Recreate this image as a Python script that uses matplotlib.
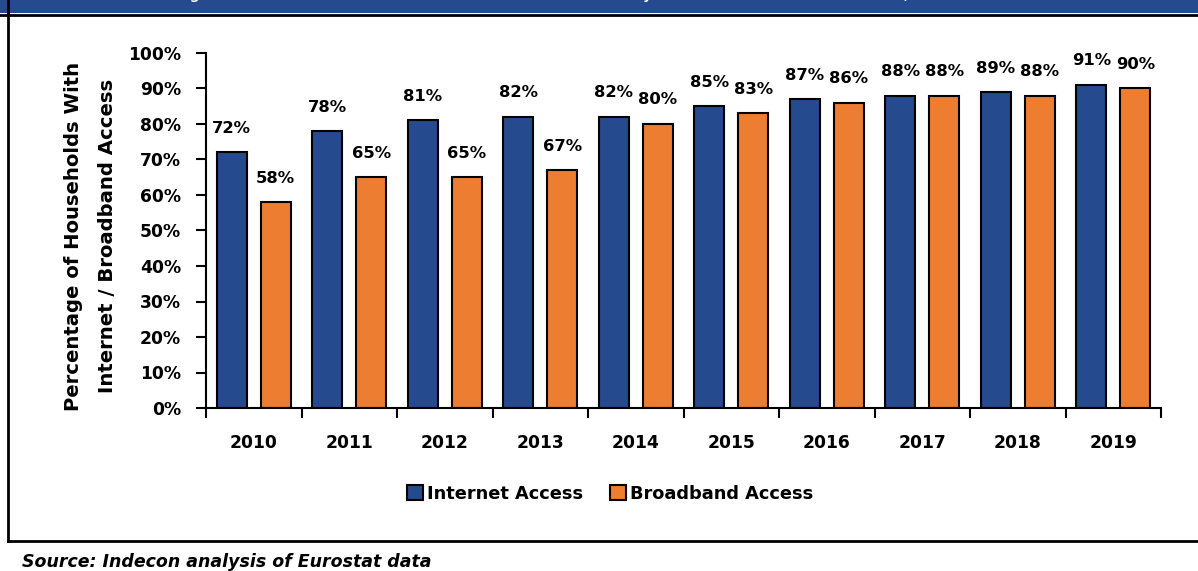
import matplotlib
matplotlib.use("Agg")
import matplotlib.pyplot as plt
from matplotlib.patches import Rectangle, Patch
from matplotlib.lines import Line2D

plt.rcParams['font.family'] = ['DejaVu Sans']
plt.rcParams['font.weight'] = 'bold'

years = ['2010', '2011', '2012', '2013', '2014', '2015', '2016', '2017', '2018', '2019']
internet = [72, 78, 81, 82, 82, 85, 87, 88, 89, 91]
broadband = [58, 65, 65, 67, 80, 83, 86, 88, 88, 90]
yticks = [0, 10, 20, 30, 40, 50, 60, 70, 80, 90, 100]

BLUE = '#264A8E'
ORANGE = '#ED7D31'

W, H = 1198, 571
fig = plt.figure(figsize=(W / 100, H / 100), dpi=100)

# frame: blue header band, rules and left border
fig.add_artist(Rectangle((0, 1 - 13 / H), 1, 13 / H, transform=fig.transFigure,
                         facecolor='#254A8F', edgecolor='none'))
fig.add_artist(Line2D([0, 1], [1 - 14.5 / H, 1 - 14.5 / H], transform=fig.transFigure,
                      color='black', lw=2))
fig.add_artist(Line2D([8 / W, 8 / W], [1, 1 - 541 / H], transform=fig.transFigure,
                      color='black', lw=2))
fig.add_artist(Line2D([8 / W, 1], [1 - 541 / H, 1 - 541 / H], transform=fig.transFigure,
                      color='black', lw=2))
fig.text(176 / W, 1 + 1 / H,
         'Figure 2.1: Internet and Broadband Access Rates Recorded by Households in Ireland over Time, 2010-2019',
         color='white', fontsize=9.7, ha='left', va='baseline')

ax = fig.add_axes([206 / W, 1 - 408 / H, (1161 - 206) / W, (408 - 53) / H])

x = range(len(years))
off = 0.23
bw = 0.314
b1 = ax.bar([i - off for i in x], internet, bw, color=BLUE, edgecolor='black', linewidth=1.5,
            label='Internet Access')
b2 = ax.bar([i + off for i in x], broadband, bw, color=ORANGE, edgecolor='black', linewidth=1.5,
            label='Broadband Access')

for bars, vals in ((b1, internet), (b2, broadband)):
    for r, v in zip(bars, vals):
        ax.annotate(f'{v}%', (r.get_x() + r.get_width() / 2, v), xytext=(0, 24),
                    textcoords='offset pixels', ha='center', va='center', fontsize=11.8)

ax.set_xlim(-0.5, len(years) - 0.5)
ax.set_ylim(0, 100)
ax.set_yticks(yticks)
ax.set_yticklabels([f'{t}%' for t in yticks], fontsize=12.3)
ax.set_xticks(list(x))
ax.set_xticklabels(years, fontsize=12.3)
ax.set_xticks([i - 0.5 for i in range(len(years) + 1)], minor=True)
ax.tick_params(axis='x', which='major', length=0, pad=19)
ax.tick_params(axis='x', which='minor', length=7, width=1.5, direction='out')
ax.tick_params(axis='y', length=7, width=1.5, pad=11)
for s in ('top', 'right'):
    ax.spines[s].set_visible(False)
for s in ('left', 'bottom'):
    ax.spines[s].set_linewidth(1.5)

fig.text(90.5 / W, 1 - 236 / H, 'Percentage of Households With\nInternet / Broadband Access',
         rotation=90, ha='center', va='center', fontsize=14.1, linespacing=1.95)

handles = [Patch(facecolor=BLUE, edgecolor='black', lw=1.5),
           Patch(facecolor=ORANGE, edgecolor='black', lw=1.5)]
fig.legend(handles, ['Internet Access', 'Broadband Access'], loc='center',
           bbox_to_anchor=(610 / W, 1 - 494 / H), ncol=2, frameon=False, fontsize=12.8,
           handlelength=0.9, handleheight=0.9, handletextpad=0.25, columnspacing=1.5)

fig.text(22 / W, 1 - 567 / H, 'Source: Indecon analysis of Eurostat data', style='italic',
         fontsize=12.5, ha='left', va='baseline')

fig.savefig('out.png', dpi=100)
